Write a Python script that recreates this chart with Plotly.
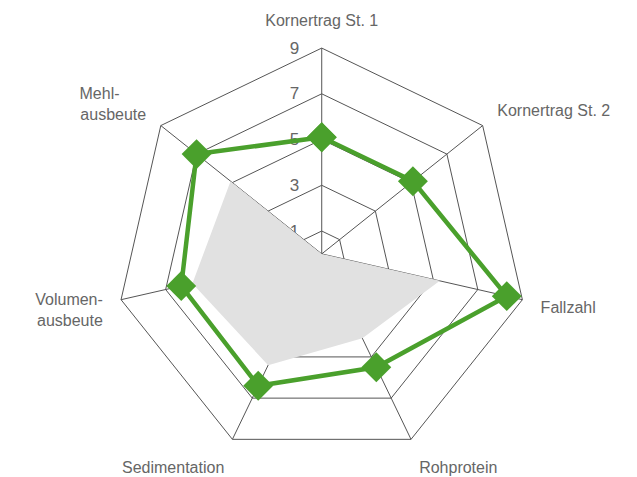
import plotly.graph_objects as go

# Kategorien (im Uhrzeigersinn ab oben)
NB = "\u00a0"
categories = ["Kornertrag St. 1", "Kornertrag St. 2", "Fallzahl", "Rohprotein",
              "Sedimentation", "Volumen-<br>ausbeute",
              "Mehl-" + NB * 6 + "<br>ausbeute"]

# Sortenwerte (grüne Linie) und Vergleichsfläche (grau)
variety_values = [5.1, 5.1, 8.3, 5.5, 6.4, 6.3, 7.0]
reference_values = [0, 0, 5.3, 4.1, 5.4, 5.8, 5.1]

tick_values = [1, 3, 5, 7, 9]
tick_labels = ["1", "3", "5", "7", "9"]

GREEN = "#4aa02c"
GRID = "#555555"
TEXT = "#666666"

def closed(seq):
    return list(seq) + [seq[0]]

fig = go.Figure()

# graue Vergleichsfläche
fig.add_trace(go.Scatterpolar(
    r=closed(reference_values),
    theta=closed(categories),
    mode="lines",
    fill="toself",
    fillcolor="#e1e1e1",
    line=dict(width=0, color="#e1e1e1"),
    hoverinfo="skip",
    showlegend=False,
))

# Sorte
fig.add_trace(go.Scatterpolar(
    r=closed(variety_values),
    theta=closed(categories),
    mode="lines+markers",
    line=dict(color=GREEN, width=4.5),
    marker=dict(symbol="diamond", size=23, color=GREEN),
    showlegend=False,
))

fig.update_layout(
    width=637,
    height=477,
    margin=dict(l=0, r=0, t=0, b=0),
    paper_bgcolor="white",
    font=dict(family="Liberation Sans, Arial, sans-serif", color=TEXT, size=16),
    polar=dict(
        bgcolor="white",
        gridshape="linear",
        domain=dict(x=[0.169, 0.816], y=[0.053, 0.916]),
        radialaxis=dict(
            range=[0, 9],
            tickvals=tick_values,
            ticktext=tick_labels,
            angle=90,
            tickangle=90,
            side="counterclockwise",
            showline=False,
            ticks="outside",
            ticklen=16,
            tickcolor="rgba(0,0,0,0)",
            gridcolor=GRID,
            gridwidth=1,
            tickfont=dict(size=17, color=TEXT),
            layer="below traces",
        ),
        angularaxis=dict(
            rotation=90,
            direction="clockwise",
            linecolor=GRID,
            linewidth=1,
            gridcolor=GRID,
            gridwidth=1,
            ticks="outside",
            ticklen=15,
            tickcolor="rgba(0,0,0,0)",
            tickfont=dict(size=16, color=TEXT),
            layer="below traces",
        ),
    ),
)

fig.write_html("out.html")
